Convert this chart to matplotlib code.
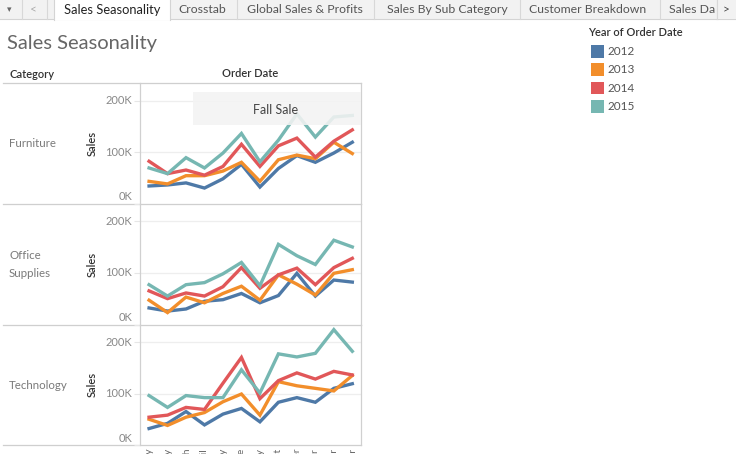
import matplotlib
matplotlib.use("Agg")
import matplotlib.pyplot as plt
from matplotlib.patches import Rectangle
from matplotlib.transforms import blended_transform_factory, offset_copy

# ---------------- data ----------------
months = ["January", "February", "March", "April", "May", "June", "July",
          "August", "September", "October", "November", "December"]
years = ["2012", "2013", "2014", "2015"]
categories = ["Furniture", "Office\nSupplies", "Technology"]

furniture_2012 = [34, 36, 40, 30, 48, 76, 32, 68, 93, 80, 98, 119]
furniture_2013 = [43, 38, 54, 54, 63, 80, 43, 85, 94, 87, 119, 97]
furniture_2014 = [82, 58, 65, 55, 72, 115, 72, 112, 127, 90, 121, 143]
furniture_2015 = [69, 58, 89, 69, 98, 136, 81, 123, 174, 129, 168, 171]

office_2012 = [32, 26, 30, 45, 48, 60, 42, 56, 99, 55, 86, 82]
office_2013 = [47, 23, 53, 42, 60, 74, 47, 96, 78, 57, 99, 106]
office_2014 = [65, 50, 61, 55, 73, 110, 70, 96, 109, 77, 110, 128]
office_2015 = [77, 55, 77, 81, 98, 120, 75, 155, 133, 116, 163, 150]

tech_2012 = [32, 42, 65, 39, 60, 71, 45, 83, 92, 83, 110, 119]
tech_2013 = [50, 38, 54, 63, 84, 99, 58, 123, 115, 110, 105, 135]
tech_2014 = [54, 58, 73, 69, 120, 170, 90, 125, 140, 128, 143, 136]
tech_2015 = [96, 73, 96, 92, 92, 146, 101, 177, 171, 178, 224, 182]

series = [
    [furniture_2012, furniture_2013, furniture_2014, furniture_2015],
    [office_2012, office_2013, office_2014, office_2015],
    [tech_2012, tech_2013, tech_2014, tech_2015],
]
ytick_vals = [0, 100, 200]
ytick_labels = ["0K", "100K", "200K"]
tabs = ["Sales Seasonality", "Crosstab", "Global Sales & Profits",
        "Sales By Sub Category", "Customer Breakdown", "Sales Da"]

colors = ["#4E79A7", "#F28E2B", "#E15759", "#76B7B2"]

# ---------------- figure ----------------
plt.rcParams['font.family'] = ['Lato', 'DejaVu Sans']
W, H = 736, 454
fig = plt.figure(figsize=(W / 100, H / 100), dpi=100)
fig.patch.set_facecolor("white")

bg = fig.add_axes([0, 0, 1, 1], zorder=0)
bg.set_xlim(0, W)
bg.set_ylim(H, 0)
bg.axis("off")

# tab bar
bg.add_patch(Rectangle((0, 0), W, 19, facecolor="#f2f2f2", edgecolor="none"))
bg.plot([0, W], [19, 19], color="#d4d4d4", lw=0.8)
bg.add_patch(Rectangle((54, 0), 116, 20, facecolor="white", edgecolor="none", zorder=3))
bg.plot([54, 54], [0, 20], color="#d4d4d4", lw=0.8, zorder=4)
bg.plot([170, 170], [0, 20], color="#d4d4d4", lw=0.8, zorder=4)
for sx in [22, 47, 237, 374, 520, 660, 717]:
    bg.plot([sx, sx], [0, 19], color="#d8d8d8", lw=0.8)
bg.text(9, 9.5, "▾", ha="center", va="center", fontsize=6.5, color="#666",
        family=["DejaVu Sans"])
bg.text(33, 9.5, "<", ha="center", va="center", fontsize=8.5, color="#aaa")
tab_x = [112, 202, 305, 447, 588, 692]
for i, (t, tx) in enumerate(zip(tabs, tab_x)):
    bg.text(tx, 9.5, t, ha="center", va="center",
            fontsize=9.3 if i == 0 else 8.8,
            color="#222" if i == 0 else "#555", zorder=5, clip_on=True)
bg.add_patch(Rectangle((717, 0), 19, 19, facecolor="#f2f2f2", edgecolor="none", zorder=6))
bg.plot([717, 717], [0, 19], color="#d8d8d8", lw=0.8, zorder=7)
bg.text(726, 9.5, ">", ha="center", va="center", fontsize=8.5, color="#444", zorder=7)

# title
bg.text(7, 43.5, "Sales Seasonality", ha="left", va="center", fontsize=14.5,
        color="#666666", fontweight="normal")

# headers
bg.text(9, 74, "Category", ha="left", va="center", fontsize=8, color="#333",
        fontweight="semibold")
bg.text(250, 73.5, "Order Date", ha="center", va="center", fontsize=8, color="#333",
        fontweight="semibold")
bg.plot([3, 361], [83, 83], color="#cfcfcf", lw=0.9)

# legend
bg.text(588, 32.5, "Year of Order Date", ha="left", va="center", fontsize=8,
        color="#333", fontweight="semibold")
for i, (yr, c) in enumerate(zip(years, colors)):
    yc = 51 + i * 18.4
    bg.add_patch(Rectangle((591, yc - 6), 12.5, 12.5, facecolor=c, edgecolor="none"))
    bg.text(608, yc + 0.5, yr, ha="left", va="center", fontsize=8.5, color="#555")

# panes
pane_top = [83, 203.5, 324.5]
pane_bot = [203.5, 324.5, 445]
X0, X1 = 140, 361
YMAX = 234

for r in range(3):
    y0, y1 = pane_top[r], pane_bot[r]
    ax = fig.add_axes([X0 / W, 1 - y1 / H, (X1 - X0) / W, (y1 - y0) / H], zorder=2)
    ax.set_facecolor("none")
    ax.set_xlim(-0.49, 11.47)
    ax.set_ylim(0, YMAX)
    for v in ytick_vals[1:]:
        ax.axhline(v, color="#eeeeee", lw=0.9, zorder=1)
    for i, vals in enumerate(series[r]):
        ax.plot(range(len(months)), vals, color=colors[i], lw=2.4,
                solid_joinstyle="miter", zorder=3 + i)
    for s in ["top", "bottom"]:
        ax.spines[s].set_visible(False)
    for s in ["left", "right"]:
        ax.spines[s].set_color("#d0d0d0")
        ax.spines[s].set_linewidth(0.9)
    ax.set_yticks(ytick_vals)
    ax.set_yticklabels([])
    ax.tick_params(axis="y", length=4, color="#e6e6e6", width=0.8)
    trans = blended_transform_factory(ax.transAxes, ax.transData)
    for v, lab in zip(ytick_vals, ytick_labels):
        dy = 7 if v == 0 else 0
        t = offset_copy(trans, fig=fig, x=-8, y=dy, units="dots")
        ax.text(0, v, lab, transform=t, ha="right", va="center",
                fontsize=8, color="#888")
    if r == 2:
        ax.set_xticks(range(len(months)))
        ax.set_xticklabels(months, rotation=90, fontsize=7.5, color="#666",
                           va="top", ha="center")
        ax.tick_params(axis="x", length=0, pad=2)
    else:
        ax.set_xticks([])
    yc = (y0 + y1) / 2
    bg.text(92.5, yc, "Sales", rotation=90, ha="center", va="center",
            fontsize=8, color="#333", fontweight="semibold")
    bg.text(9, yc + 0.5, categories[r], ha="left", va="center", fontsize=8.3,
            color="#7a7a7a", linespacing=1.75)
    bg.plot([3, 361], [y1, y1], color="#cfcfcf", lw=0.9)

# annotation overlay
ov = fig.add_axes([0, 0, 1, 1], zorder=5)
ov.set_xlim(0, W)
ov.set_ylim(H, 0)
ov.axis("off")
ov.patch.set_alpha(0)
ov.add_patch(Rectangle((193, 92), 168, 33, facecolor="#f3f3f3", edgecolor="none",
                       alpha=0.88))
ov.text(276, 109.5, "Fall Sale", ha="center", va="center", fontsize=9, color="#444")

fig.savefig("out.png", dpi=100)
